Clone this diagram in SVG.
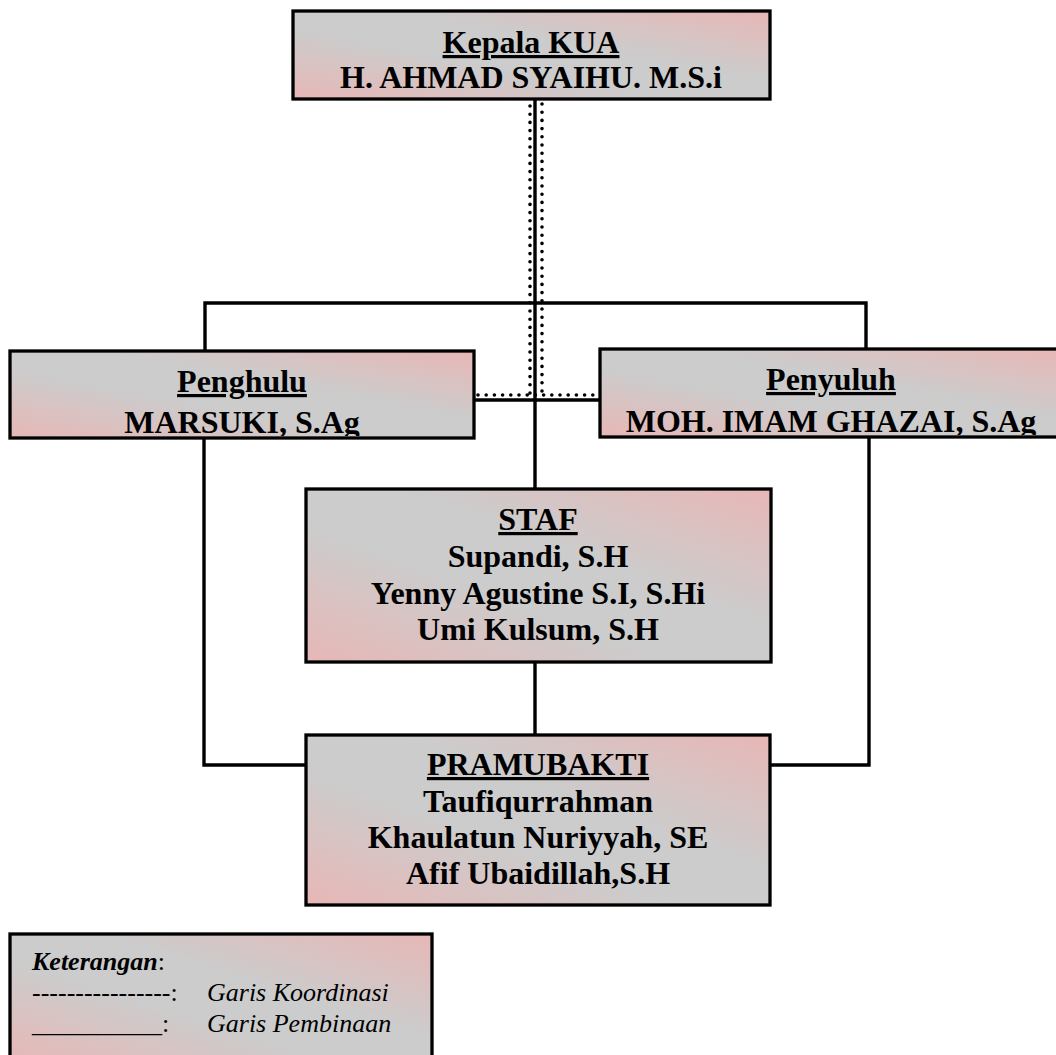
<svg xmlns="http://www.w3.org/2000/svg" width="1056" height="1055" viewBox="0 0 1056 1055">
<defs>
<linearGradient id="g" x1="0" y1="1" x2="1" y2="0">
<stop offset="0" stop-color="#e7b7b6"/>
<stop offset="0.4" stop-color="#cccccc"/>
<stop offset="0.6" stop-color="#cccccc"/>
<stop offset="1" stop-color="#e7b7b6"/>
</linearGradient>
<clipPath id="c1"><rect x="10" y="351" width="464" height="85"/></clipPath>
<clipPath id="c2"><rect x="600" y="349" width="458" height="86"/></clipPath>
</defs>
<style>
.box{fill:url(#g);stroke:#000;stroke-width:3.3}
.t{font-family:"Liberation Serif","Times New Roman",serif;font-weight:bold;font-size:32px;text-anchor:middle;fill:#000}
.u{text-decoration:underline}
.ln{fill:none;stroke:#000;stroke-width:3.4}
.dot{fill:none;stroke:#000;stroke-width:3.6;stroke-linecap:round;stroke-dasharray:0 8.2}
.lg{font-family:"Liberation Serif","Times New Roman",serif;font-size:26px;fill:#000}
</style>
<rect width="1056" height="1055" fill="#fff"/>
<g id="connectors">
<path class="ln" d="M535 99V489M535 662V735"/>
<path class="ln" d="M205 351V303H866V349"/>
<path class="ln" d="M474 400H600"/>
<path class="ln" d="M204 438V765H306M869 437V765H770"/>
<path class="dot" d="M530 106V395M542 104V395M478 395H598"/>
</g>
<g id="kepala">
<rect class="box" x="293" y="11" width="477" height="88"/>
<text class="t u" x="531" y="53">Kepala KUA</text>
<text class="t" x="531" y="88">H. AHMAD SYAIHU. M.S.i</text>
</g>
<g id="penghulu">
<rect class="box" x="10" y="351" width="464" height="87"/>
<g clip-path="url(#c1)">
<text class="t u" x="242" y="392">Penghulu</text>
<text class="t" x="242" y="433">MARSUKI, S.Ag</text>
</g>
</g>
<g id="penyuluh">
<rect class="box" x="600" y="349" width="458" height="88"/>
<g clip-path="url(#c2)">
<text class="t u" x="831" y="390">Penyuluh</text>
<text class="t" x="831" y="432">MOH. IMAM GHAZAI, S.Ag</text>
</g>
</g>
<g id="staf">
<rect class="box" x="306" y="489" width="465" height="173"/>
<text class="t u" x="538" y="530">STAF</text>
<text class="t" x="538" y="567">Supandi, S.H</text>
<text class="t" x="538" y="604">Yenny Agustine S.I, S.Hi</text>
<text class="t" x="538" y="640">Umi Kulsum, S.H</text>
</g>
<g id="pramubakti">
<rect class="box" x="306" y="735" width="464" height="170"/>
<text class="t u" x="538" y="775">PRAMUBAKTI</text>
<text class="t" x="538" y="812">Taufiqurrahman</text>
<text class="t" x="538" y="848">Khaulatun Nuriyyah, SE</text>
<text class="t" x="538" y="884">Afif Ubaidillah,S.H</text>
</g>
<g id="legend">
<rect class="box" x="10" y="934" width="422" height="130"/>
<text class="lg" x="32" y="970"><tspan font-weight="bold" font-style="italic">Keterangan</tspan>:</text>
<text class="lg" x="32" y="1001">----------------:</text>
<text class="lg" x="207" y="1001" font-style="italic">Garis Koordinasi</text>
<text class="lg" x="32" y="1032">__________:</text>
<text class="lg" x="207" y="1032" font-style="italic">Garis Pembinaan</text>
</g>
</svg>
